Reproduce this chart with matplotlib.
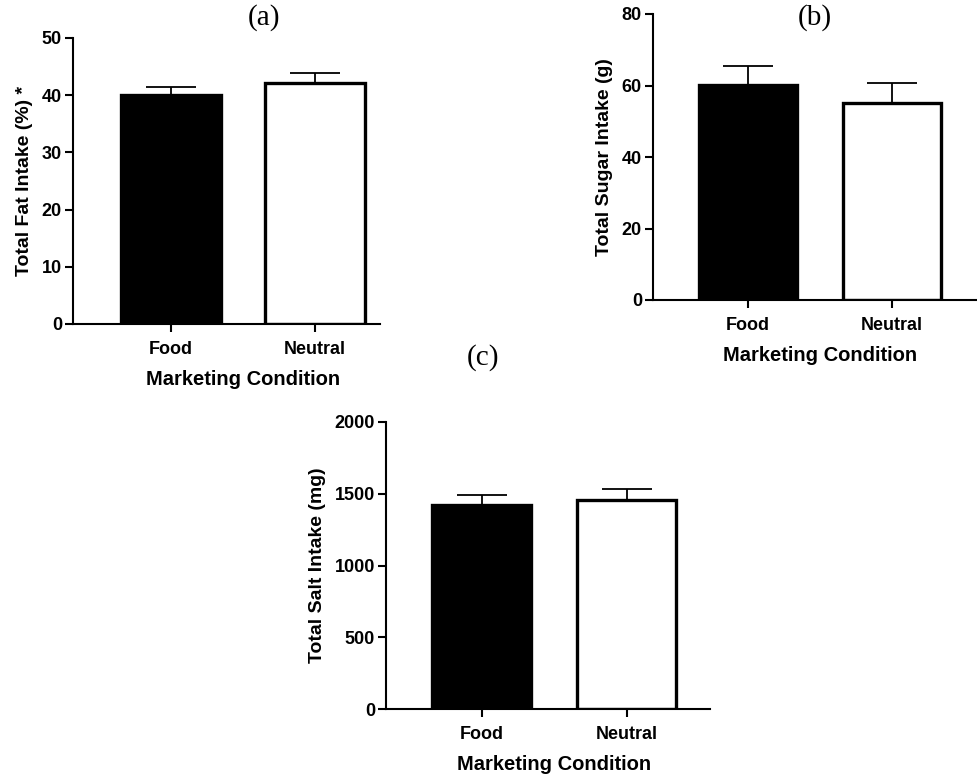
import matplotlib
matplotlib.use("Agg")
import matplotlib.pyplot as plt

plt.rcParams["font.family"] = ["Liberation Sans", "DejaVu Sans"]
plt.rcParams["font.weight"] = "bold"

conditions = ["Food", "Neutral"]

fat_mean = [40.1, 42.1]
fat_sem = [1.4, 1.7]

sugar_mean = [60.1, 55.2]
sugar_sem = [5.4, 5.6]

salt_mean = [1421, 1458]
salt_sem = [69, 72]

W, H = 977, 778
fig = plt.figure(figsize=(W / 100, H / 100), dpi=100)


def add_panel(left, right, bottom, top):
    return fig.add_axes([left / W, 1 - bottom / H, (right - left) / W, (bottom - top) / H])


def draw(ax, means, sems, ylim, yticks, ylabel, xmin, xmax, bar_w):
    x = [0, 1]
    ax.bar(x, means, width=bar_w, color=["black", "white"], edgecolor="black",
           linewidth=2.4, zorder=2)
    ax.errorbar(x, means, yerr=[[0, 0], sems], fmt="none", ecolor="black",
                elinewidth=1.3, capsize=18, capthick=1.3, zorder=1)
    ax.set_xlim(xmin, xmax)
    ax.set_ylim(*ylim)
    ax.set_yticks(yticks)
    ax.set_xticks(x)
    ax.set_xticklabels(conditions)
    for s in ("top", "right"):
        ax.spines[s].set_visible(False)
    for s in ("left", "bottom"):
        ax.spines[s].set_linewidth(1.5)
    ax.tick_params(width=1.5, length=6, labelsize=13)
    ax.tick_params(axis="x", pad=6)
    ax.tick_params(axis="y", pad=2)
    for lab in ax.get_xticklabels() + ax.get_yticklabels():
        lab.set_fontweight("bold")
    ax.set_ylabel(ylabel, fontsize=14, fontweight="bold", labelpad=6)
    ax.set_xlabel("Marketing Condition", fontsize=14.5, fontweight="bold")
    # center the x label under the two bars
    frac = (0.5 - xmin) / (xmax - xmin)
    ax.xaxis.set_label_coords(frac, -0.16)


# (a) fat
ax_a = add_panel(73, 380, 324, 38)
draw(ax_a, fat_mean, fat_sem, (0, 50), [0, 10, 20, 30, 40, 50],
     "Total Fat Intake (%) *", -0.68, 1.45, 0.69)

# (b) sugar
ax_b = add_panel(653, 977, 300, 14)
draw(ax_b, sugar_mean, sugar_sem, (0, 80), [0, 20, 40, 60, 80],
     "Total Sugar Intake (g)", -0.66, 1.59, 0.68)

# (c) salt
ax_c = add_panel(386, 710, 709, 422)
draw(ax_c, salt_mean, salt_sem, (0, 2000), [0, 500, 1000, 1500, 2000],
     "Total Salt Intake (mg)", -0.66, 1.576, 0.68)

serif = ["Liberation Serif", "DejaVu Serif"]
for x, y, t in [(264, 18, "(a)"), (815, 18, "(b)"), (483, 358, "(c)")]:
    fig.text(x / W, 1 - y / H, t, family=serif, fontsize=21, ha="center", va="center",
             fontweight="normal")

fig.savefig("out.png", dpi=100, facecolor="white")
